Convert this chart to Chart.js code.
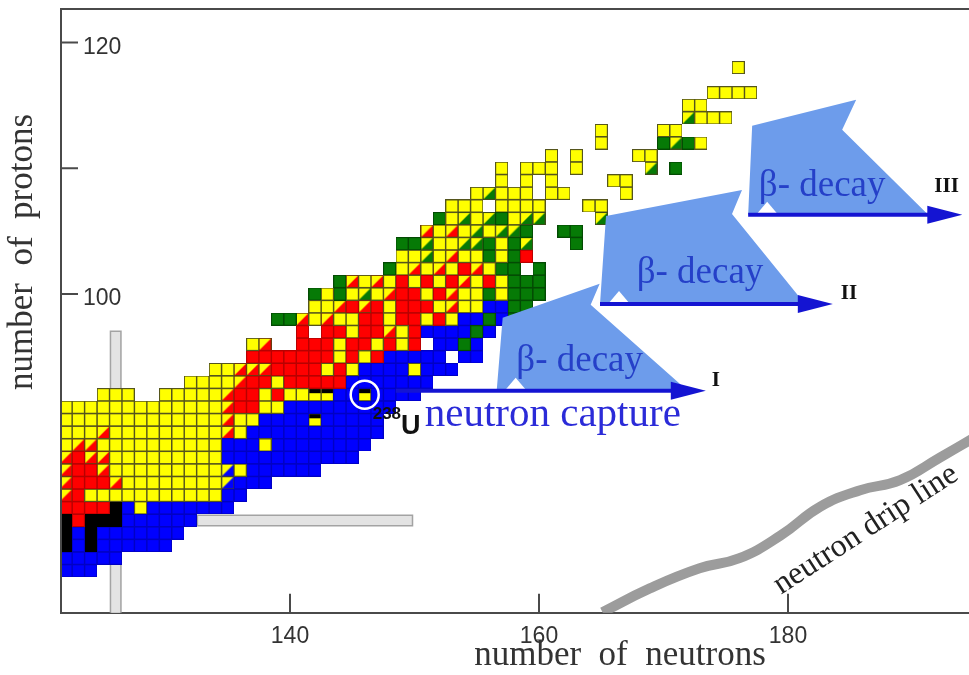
<!DOCTYPE html>
<html>
<head>
<meta charset="utf-8">
<script src="https://cdn.jsdelivr.net/npm/chart.js@4.4.0/dist/chart.umd.min.js"></script>
<style>
  html, body { margin: 0; padding: 0; background: #fff; overflow: hidden; }
  canvas { display: block; }
</style>
</head>
<body>
<canvas id="nuclides" width="990" height="675"></canvas>
<script>
// Nuclide map rows: proton number, first neutron number, one letter per nuclide.
// Y alpha, R beta+/EC, G fission, B beta-, K black, r/g/b half yellow cells, k cell with black bar, . empty
const protonRows = [78, 79, 80, 81, 82, 83, 84, 85, 86, 87, 88, 89, 90, 91, 92, 93, 94, 95, 96, 97, 98,
  99, 100, 101, 102, 103, 104, 105, 106, 107, 108, 109, 110, 111, 112, 113, 114, 115, 116, 118];
const firstNeutron = [122, 122, 122, 122, 122, 122, 122, 122, 122, 122, 122, 122, 122, 122, 125, 132, 134, 137, 137, 141, 139,
  142, 142, 144, 148, 149, 149, 151, 152, 153, 155, 157, 157, 161, 165, 165, 172, 172, 174, 176];
const decayRows = [
  "BBB",
  "BBBBB",
  "KBKBBBBBB",
  "KBKBBBBBBB",
  "KRKKKBBBBBB",
  "RRRRKBYBBBBBBB",
  "rRYYYYYYYYYYYBB",
  "rRRRrYYYYYYYYbBBB",
  "rRRrYYYYYYYYYbYBBBBBB",
  "rRrrYYYYYYYYYBBBBBBBBBBB",
  "YrrYYYYYYYYYYBBBYBBBBBBBB",
  "YYYrYYYYYYYYYrYBBBBBBBBBBB",
  "YYYYYYYYYYYYYrYYBBBBkBBBBB",
  "YYYYYYYYYYYYYrRRYYBBBBBBBBB",
  "YYY..YYYYYrRRYRYYkkBBkBBBB",
  "YYYYrRRYRRRRRBBBBBBB",
  "YYrrrRRRRYRYBBBBYBBB",
  "RRRRRRRYRYRBBBBB.BB",
  "Yr..RRRYRRYRYR.BBGB",
  "R.RRYRRrYRBBBBGB",
  "GGrYrYYRRYRRYRYBBGBG",
  "YYrRrRYRRRYrYYBBGG",
  "GYGYgYrRRYRrYYGYGGG",
  "GrYrYRYRYRrYRYGGG",
  "GYrYrYRrYGG.G",
  "YYgYrYYGYGR",
  "GGgYYggGYGg...G",
  "rYrYgYggG..GG",
  "GYgYgGYgg....g",
  "YYY.YYYY...YY",
  "YgYYY.YY....Y",
  "Y.Y.Y....YY",
  "Y.YYY.Y.....g.G",
  "Y.Y....YY",
  "Y....GgGY",
  "Y....YY",
  "gYYY",
  "YY",
  "YYYY",
  "Y"
];

const xTicks = [140, 160, 180];
const yTicks = [100, 110, 120];
const yTickLabels = { 100: "100", 120: "120" };

// closed shells N = 126 and Z = 82
const shellN = 126;
const shellNRange = [74.6, 97.1];
const shellZ = 82;
const shellZRange = [132.5, 149.9];

// neutron drip line
const dripN = [165.1, 168.9, 172.9, 176.1, 179.4, 182.6, 185.8, 189.0, 192.2, 195.0];
const dripZ = [74.7, 76.6, 78.2, 79.0, 80.8, 83.1, 84.4, 85.2, 87.0, 88.6];

// neutron capture paths I-III and their beta- decay flags
const pathZ = [92.3, 99.2, 106.3];
const pathFromN = [148.5, 164.9, 176.8];
const pathToN = [173.4, 183.6, 194.0];
const flagFromN = [156.6, 164.9, 176.8];
const pathLabels = ["I", "II", "III"];

const uranium = { n: 146, z: 92 };

const cellStyles = {
  Y: ["#ffff00", null, "#55551c"],
  R: ["#ff0000", null, "#b80000"],
  G: ["#067a06", null, "#034a03"],
  B: ["#0000ff", null, "#0000c4"],
  K: ["#000000", null, "#000000"],
  r: ["#ffff00", "#ff0000", "#6b3a10"],
  g: ["#ffff00", "#067a06", "#3d4d1a"],
  b: ["#ffff00", "#0000ff", "#30305a"],
  k: ["#ffff00", null, "#55551c", true]
};

function cellImage(code) {
  const [base, corner, edge, bar] = cellStyles[code];
  const c = document.createElement("canvas");
  c.width = 13; c.height = 13;
  const g = c.getContext("2d");
  g.fillStyle = base;
  g.fillRect(0, 0, 13, 13);
  if (corner) {
    g.fillStyle = corner;
    g.beginPath();
    g.moveTo(13, 0); g.lineTo(13, 13); g.lineTo(0, 13);
    g.closePath();
    g.fill();
  }
  if (bar) { g.fillStyle = "#000"; g.fillRect(0, 0, 13, 5); }
  g.strokeStyle = edge;
  g.lineWidth = 1;
  g.strokeRect(0.5, 0.5, 12, 12);
  return c;
}

const cellSets = {};
Object.keys(cellStyles).forEach(code => {
  cellSets[code] = {
    data: [],
    pointStyle: cellImage(code),
    pointRadius: 6,
    pointHoverRadius: 6,
    showLine: false,
    clip: 0,
    order: 5
  };
});
protonRows.forEach((z, i) => {
  [...decayRows[i]].forEach((c, j) => {
    if (c !== ".") cellSets[c].data.push({ x: firstNeutron[i] + j, y: z });
  });
});

const shellBars = [
  { data: [{ x: shellN, y: shellNRange[0] }, { x: shellN, y: shellNRange[1] }], borderColor: "#a3a3a3", borderWidth: 12, order: 12 },
  { data: [{ x: shellN, y: shellNRange[0] }, { x: shellN, y: shellNRange[1] - 0.12 }], borderColor: "#e3e3e3", borderWidth: 9, order: 11 },
  { data: [{ x: shellZRange[0], y: shellZ }, { x: shellZRange[1], y: shellZ }], borderColor: "#a3a3a3", borderWidth: 12, order: 12 },
  { data: [{ x: shellZRange[0] + 0.12, y: shellZ }, { x: shellZRange[1] - 0.12, y: shellZ }], borderColor: "#e3e3e3", borderWidth: 9, order: 11 }
].map(d => Object.assign(d, { showLine: true, pointRadius: 0, borderCapStyle: "butt", clip: 0 }));

const dripLine = {
  data: dripN.map((n, i) => ({ x: n, y: dripZ[i] })),
  showLine: true,
  borderColor: "#9c9c9c",
  borderWidth: 10,
  tension: 0.45,
  pointRadius: 0,
  clip: 0,
  order: 4
};

const uraniumRing = {
  data: [{ x: uranium.n, y: uranium.z }],
  pointStyle: "circle",
  pointRadius: 14,
  pointBorderColor: "#ffffff",
  pointBorderWidth: 2.5,
  pointBackgroundColor: "rgba(0,0,0,0)",
  showLine: false,
  order: 1
};

const serif = '"Liberation Serif", "Times New Roman", serif';
const sans = '"Liberation Sans", Arial, sans-serif';

// flags drawn as pixel outlines around the start of each capture path
const flagOutlines = [
  [[0, 0], [6, -73], [103, -107], [94, -86], [191, 0]],
  [[0, 0], [6, -88], [142, -114], [132, -90], [205, 0]],
  [[0, 0], [4, -89], [108, -115], [94, -85], [180, 0]]
];
const flagTextOffsets = [[83, -20], [100, -21], [74, -19]];

const overlay = {
  id: "overlay",
  afterDatasetsDraw(chart) {
    const { ctx, chartArea: area, scales: { x, y } } = chart;
    const px = v => x.getPixelForValue(v);
    const py = v => y.getPixelForValue(v);
    ctx.save();

    // frame and inward tick marks
    ctx.strokeStyle = "#4a4a4a";
    ctx.lineWidth = 2;
    ctx.beginPath();
    ctx.moveTo(area.left, area.bottom);
    ctx.lineTo(area.left, area.top);
    ctx.lineTo(area.right, area.top);
    yTicks.forEach(v => { ctx.moveTo(area.left, py(v)); ctx.lineTo(area.left + 17, py(v)); });
    xTicks.forEach(v => { ctx.moveTo(px(v), area.bottom); ctx.lineTo(px(v), area.bottom - 19); });
    ctx.stroke();

    // beta- decay flags
    pathZ.forEach((z, i) => {
      const bx = px(flagFromN[i]), by = py(z);
      ctx.fillStyle = "#6d9ceb";
      ctx.beginPath();
      flagOutlines[i].forEach(([dx, dy], k) => k ? ctx.lineTo(bx + dx, by + dy) : ctx.moveTo(bx + dx, by + dy));
      ctx.closePath();
      ctx.fill();
      ctx.fillStyle = "#ffffff";
      ctx.beginPath();
      ctx.moveTo(bx + 8, by); ctx.lineTo(bx + 19, by - 13); ctx.lineTo(bx + 30, by);
      ctx.closePath();
      ctx.fill();
      ctx.fillStyle = "#2540c8";
      ctx.font = "37px " + serif;
      ctx.textAlign = "center";
      ctx.textBaseline = "alphabetic";
      ctx.fillText("\u03b2- decay", bx + flagTextOffsets[i][0], by + flagTextOffsets[i][1]);
    });

    // capture paths with arrow heads
    const labelOffsets = [[6, -5], [8, -5], [-28, -23]];
    pathZ.forEach((z, i) => {
      const x0 = px(pathFromN[i]), x1 = px(pathToN[i]), yy = py(z);
      ctx.strokeStyle = "#1414d2";
      ctx.lineWidth = 4;
      ctx.beginPath();
      ctx.moveTo(x0, yy); ctx.lineTo(x1 - 30, yy);
      ctx.stroke();
      ctx.fillStyle = "#1414d2";
      ctx.beginPath();
      ctx.moveTo(x1, yy); ctx.lineTo(x1 - 35, yy - 9); ctx.lineTo(x1 - 35, yy + 9);
      ctx.closePath();
      ctx.fill();
      ctx.fillStyle = "#111";
      ctx.font = "bold 21px " + serif;
      ctx.textAlign = "left";
      ctx.fillText(pathLabels[i], x1 + labelOffsets[i][0], yy + labelOffsets[i][1]);
    });

    // 238U and neutron capture
    const ux = px(uranium.n), uy = py(uranium.z);
    ctx.fillStyle = "#111";
    ctx.textAlign = "left";
    ctx.font = "bold 17px " + sans;
    ctx.fillText("238", ux + 8, uy + 24);
    const w238 = ctx.measureText("238").width;
    ctx.font = "bold 27px " + sans;
    ctx.fillText("U", ux + 8 + w238, uy + 39);
    ctx.fillStyle = "#2b2bd8";
    ctx.font = "41px " + serif;
    ctx.fillText("neutron capture", ux + 60, uy + 31);

    // drip line label
    ctx.save();
    ctx.translate(px(dripN[5]) + 50, py(dripZ[5]) + 30);
    ctx.rotate(-33 * Math.PI / 180);
    ctx.fillStyle = "#222";
    ctx.font = "32px " + serif;
    ctx.textAlign = "center";
    ctx.fillText("neutron drip line", 0, 0);
    ctx.restore();

    // axis titles
    ctx.fillStyle = "#333";
    ctx.font = "35px " + serif;
    ctx.textAlign = "center";
    ctx.textBaseline = "alphabetic";
    ctx.fillText("number  of  neutrons", 620, 665);
    ctx.save();
    ctx.translate(32, 252);
    ctx.rotate(-Math.PI / 2);
    ctx.fillText("number  of  protons", 0, 0);
    ctx.restore();

    ctx.restore();
  }
};

new Chart(document.getElementById("nuclides"), {
  type: "scatter",
  data: {
    datasets: [uraniumRing, dripLine, ...Object.values(cellSets), ...shellBars]
  },
  options: {
    responsive: false,
    animation: false,
    events: [],
    layout: { autoPadding: false, padding: { top: 9, left: 0, right: 0, bottom: 0 } },
    plugins: { legend: { display: false }, tooltip: { enabled: false } },
    scales: {
      x: {
        type: "linear",
        min: 121.606,
        max: 196.225,
        afterBuildTicks: s => { s.ticks = xTicks.map(v => ({ value: v })); },
        afterFit: s => { s.height = 62.3; s.paddingLeft = 0; s.paddingRight = 0; },
        grid: { display: false },
        border: { color: "#4a4a4a", width: 2 },
        ticks: { color: "#333", font: { family: sans, size: 23 }, padding: 2, maxRotation: 0, autoSkip: false }
      },
      y: {
        type: "linear",
        min: 74.667,
        max: 122.655,
        afterBuildTicks: s => { s.ticks = yTicks.map(v => ({ value: v })); },
        afterFit: s => { s.width = 61; s.paddingTop = 0; s.paddingBottom = 0; },
        grid: { display: false },
        border: { color: "#4a4a4a", width: 2 },
        ticks: {
          mirror: true, padding: 22, labelOffset: 5, color: "#333",
          font: { family: sans, size: 23 },
          callback: v => yTickLabels[v] || ""
        }
      }
    }
  },
  plugins: [overlay]
});
</script>
</body>
</html>
